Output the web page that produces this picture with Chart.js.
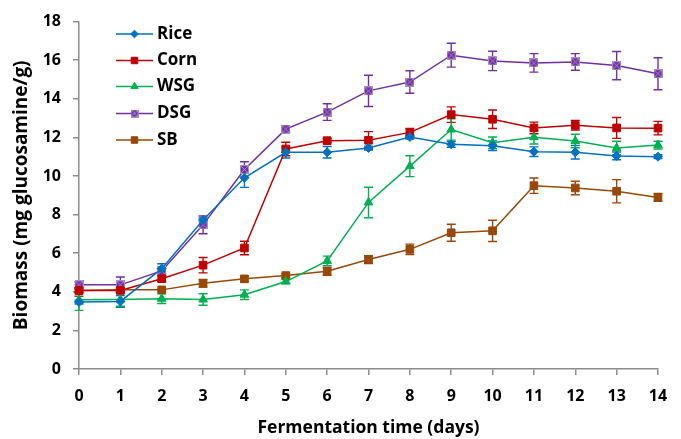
<!DOCTYPE html>
<html><head><meta charset="utf-8">
<script src="https://cdn.jsdelivr.net/npm/chart.js@4"></script>
<style>html,body{margin:0;padding:0;background:#fff}</style>
</head><body>
<canvas id="c" width="681" height="439" style="display:block;width:681px;height:439px"></canvas>
<script>
const days = ['0','1','2','3','4','5','6','7','8','9','10','11','12','13','14'];
const yTicks = [0,2,4,6,8,10,12,14,16,18];
const seriesNames = ['Rice','Corn','WSG','DSG','SB'];

const rice    = [3.47,3.50,5.20,7.72,9.91,11.23,11.23,11.45,12.02,11.64,11.57,11.26,11.23,11.04,11.00];
const riceErr = [0.10,0.30,0.25,0.10,0.50,0.30,0.30,0.10,0.10,0.15,0.25,0.25,0.35,0.20,0.10];
const corn    = [4.07,4.07,4.68,5.38,6.27,11.40,11.83,11.85,12.26,13.18,12.94,12.49,12.63,12.49,12.48];
const cornErr = [0.10,0.10,0.15,0.40,0.35,0.35,0.10,0.45,0.20,0.40,0.48,0.30,0.25,0.54,0.35];
const wsg     = [3.59,3.60,3.64,3.60,3.85,4.53,5.60,8.63,10.51,12.41,11.72,12.01,11.81,11.45,11.60];
const wsgErr  = [0.55,0.35,0.25,0.30,0.25,0.10,0.25,0.79,0.54,0.55,0.30,0.35,0.35,0.35,0.20];
const dsg     = [4.36,4.36,5.08,7.47,10.34,12.43,13.31,14.41,14.87,16.26,15.96,15.86,15.91,15.72,15.30];
const dsgErr  = [0.15,0.41,0.20,0.46,0.40,0.15,0.43,0.81,0.58,0.62,0.50,0.48,0.43,0.73,0.83];
const sb      = [4.07,4.10,4.10,4.44,4.67,4.84,5.06,5.67,6.20,7.06,7.16,9.50,9.38,9.21,8.89];
const sbErr   = [0.30,0.10,0.05,0.20,0.15,0.10,0.20,0.20,0.27,0.44,0.55,0.40,0.35,0.60,0.20];

const FONT = '"Open Sans", Lato, "DejaVu Sans", sans-serif';

function dsgMarker(s){
  const c = document.createElement('canvas');
  c.width = s; c.height = s;
  const g = c.getContext('2d');
  g.fillStyle = '#7030A0'; g.fillRect(0,0,s,s);
  g.strokeStyle = '#A98BC8'; g.lineWidth = 1;
  g.strokeRect(0.5,0.5,s-1,s-1);
  g.beginPath(); g.moveTo(1,1); g.lineTo(s-1,s-1); g.moveTo(s-1,1); g.lineTo(1,s-1); g.stroke();
  return c;
}
const dsgImg = dsgMarker(9);
const dsgImgSmall = dsgMarker(8);

const errorBars = {
  id: 'errorBars',
  beforeDatasetsDraw(chart){
    const ctx = chart.ctx, ys = chart.scales.y;
    chart.data.datasets.forEach((ds,i)=>{
      const meta = chart.getDatasetMeta(i);
      ctx.save();
      ctx.strokeStyle = ds.borderColor; ctx.lineWidth = 1.4;
      meta.data.forEach((pt,j)=>{
        const e = ds.errors[j]; if(!e) return;
        const v = ds.data[j];
        const y1 = ys.getPixelForValue(v+e), y2 = ys.getPixelForValue(v-e);
        ctx.beginPath();
        ctx.moveTo(pt.x,y1); ctx.lineTo(pt.x,y2);
        ctx.moveTo(pt.x-4.5,y1); ctx.lineTo(pt.x+4.5,y1);
        ctx.moveTo(pt.x-4.5,y2); ctx.lineTo(pt.x+4.5,y2);
        ctx.stroke();
      });
      ctx.restore();
    });
  }
};

const insideLegend = {
  id: 'insideLegend',
  afterDraw(chart){
    const ctx = chart.ctx;
    const x0 = 116, x1 = 153, xm = 134.5, xt = 157;
    const ys = [34, 60.5, 86.5, 113.5, 140];
    chart.data.datasets.forEach((ds,i)=>{
      const y = ys[i];
      ctx.save();
      ctx.strokeStyle = ds.borderColor; ctx.lineWidth = 1.5;
      ctx.beginPath(); ctx.moveTo(x0,y); ctx.lineTo(x1,y); ctx.stroke();
      ctx.fillStyle = ds.backgroundColor; ctx.strokeStyle = ds.borderColor; ctx.lineWidth = 1;
      const style = (ds.pointStyle === dsgImg) ? dsgImgSmall : ds.pointStyle;
      Chart.helpers.drawPoint(ctx, {
        pointStyle: style, radius: ds.pointRadius * 0.85, rotation: 0, borderWidth: 1
      }, xm, y);
      ctx.restore();
      ctx.save();
      ctx.fillStyle = '#000';
      ctx.font = 'bold 17px ' + FONT;
      ctx.textBaseline = 'middle'; ctx.textAlign = 'left';
      ctx.fillText(ds.label, xt, y);
      ctx.restore();
    });
  }
};

function mk(label, data, errors, color, style, radius){
  return {
    label, data, errors,
    borderColor: color, backgroundColor: color,
    pointBackgroundColor: color, pointBorderColor: color,
    borderWidth: 1.5, pointStyle: style, pointRadius: radius,
    pointBorderWidth: 1, tension: 0, fill: false
  };
}

new Chart(document.getElementById('c'), {
  type: 'line',
  data: {
    labels: days,
    datasets: [
      mk(seriesNames[0], rice, riceErr, '#0070C0', 'rectRot', 4.5),
      mk(seriesNames[1], corn, cornErr, '#C00000', 'rect', 5.4),
      mk(seriesNames[2], wsg,  wsgErr,  '#00B050', 'triangle', 5),
      mk(seriesNames[3], dsg,  dsgErr,  '#7030A0', dsgImg, 5),
      mk(seriesNames[4], sb,   sbErr,   '#984807', 'rect', 5.4)
    ]
  },
  options: {
    responsive: false,
    animation: false,
    layout: { padding: { top: 18, right: 23, bottom: 0, left: 0 } },
    plugins: { legend: { display: false }, tooltip: { enabled: false } },
    scales: {
      x: {
        type: 'category',
        offset: false,
        grid: { display: true, drawOnChartArea: false, drawTicks: true, tickLength: 6, color: '#8c8c8c', lineWidth: 1.5 },
        border: { display: true, color: '#8c8c8c', width: 1.5 },
        ticks: { color: '#000', font: { family: FONT, size: 16, weight: 'bold' }, padding: 12, maxRotation: 0, autoSkip: false },
        title: { display: true, text: 'Fermentation time (days)', color: '#000', font: { family: FONT, size: 17.5, weight: 'bold' }, padding: { top: 0, bottom: 0 } },
        afterFit(s){ s.height = 70; }
      },
      y: {
        min: 0, max: 18,
        afterBuildTicks(s){ s.ticks = yTicks.map(v=>({value:v})); },
        grid: { display: true, drawOnChartArea: false, drawTicks: true, tickLength: 6, color: '#8c8c8c', lineWidth: 1.5 },
        border: { display: true, color: '#8c8c8c', width: 1.5 },
        ticks: { color: '#000', font: { family: FONT, size: 16, weight: 'bold' }, padding: 12 },
        title: { display: true, text: 'Biomass (mg glucosamine/g)', color: '#000', font: { family: FONT, size: 19, weight: 'bold' }, padding: { top: 10.5, bottom: 0 } },
        afterFit(s){ s.width = 79; }
      }
    }
  },
  plugins: [errorBars, insideLegend]
});
</script>
</body></html>
